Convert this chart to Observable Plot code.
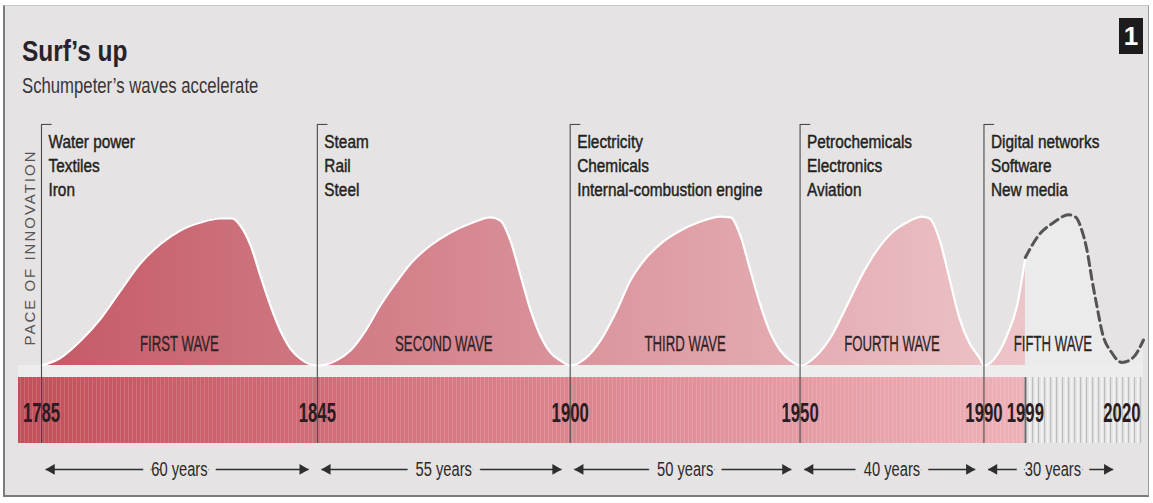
<!DOCTYPE html>
<html><head><meta charset="utf-8">
<script src="https://cdn.jsdelivr.net/npm/d3@7"></script>
<script src="https://cdn.jsdelivr.net/npm/@observablehq/plot@0.6"></script>
<style>
html,body{margin:0;padding:0;background:#fff}
body{width:1153px;height:503px;position:relative;overflow:hidden;font-family:"Liberation Sans",Arial,sans-serif}
#frame{position:absolute;left:3px;top:5px;width:1143px;height:489px;background:#e5e3e3;border-left:2px solid #7c7c7c;border-bottom:2px solid #7c7c7c;border-right:1px solid #9c9c9c;border-top:1px solid #c8c8c8}
.hd{position:absolute;left:22px;white-space:nowrap;transform-origin:0 0}
#title{top:36px;font-size:30px;line-height:30px;font-weight:bold;color:#28232a;transform:scaleX(.815)}
#subtitle{top:75px;font-size:22px;line-height:22px;color:#3a3436;transform:scaleX(.76)}
#badge{position:absolute;left:1119px;top:18px;width:24px;height:36px;background:#1d1b1c;color:#fff;font-weight:bold;font-size:26px;line-height:36px;text-align:center}
#chart{position:absolute;left:0;top:112px}
</style></head><body>
<div id="frame"></div>
<div id="title" class="hd">Surf’s up</div>
<div id="subtitle" class="hd">Schumpeter’s waves accelerate</div>
<div id="badge">1</div>
<div id="chart"></div>
<script>
// ---- data ----
const waveStarts = [1785, 1845, 1900, 1950, 1990];
const waveEnds = [1845, 1900, 1950, 1990, 2020];
const waveNames = ["FIRST WAVE", "SECOND WAVE", "THIRD WAVE", "FOURTH WAVE", "FIFTH WAVE"];
const innovations = [
  "Water power\nTextiles\nIron",
  "Steam\nRail\nSteel",
  "Electricity\nChemicals\nInternal-combustion engine",
  "Petrochemicals\nElectronics\nAviation",
  "Digital networks\nSoftware\nNew media"
];
const spanLabels = ["60 years", "55 years", "50 years", "40 years", "30 years"];
const yearTicks = [1785, 1845, 1900, 1950, 1990, 1999, 2020];
const nowYear = 1999;
const timeline = [1780, 2024.7];

// pace of innovation [year, pace]
const wave1 = [[1785,0],[1789.1,5],[1793.5,16.5],[1797.8,31],[1802.2,50],[1806.5,68],[1810.9,81],[1815.2,90],[1819.6,95.3],[1823.9,98],[1826.5,98],[1828.3,93],[1830.5,80],[1832.6,60],[1834.8,40],[1837,23],[1839.2,11],[1841.3,4.5],[1845,0]];
const wave2 = [[1845,0],[1849.1,3.3],[1852.2,10],[1855.5,23.3],[1858.7,40],[1862,54.7],[1865.3,68],[1869.6,80],[1874,88.7],[1878.3,94.7],[1882.7,98.7],[1884.8,96.7],[1887,83.3],[1889.2,60],[1891.4,36.7],[1893.5,20],[1895.7,8.7],[1897.9,3.3],[1900,0]];
const wave3 = [[1900,0],[1903.3,4.7],[1906.6,16.7],[1909.9,35.3],[1913.1,56.7],[1916.4,71.3],[1919.7,81.3],[1924,90],[1928.4,96],[1932.7,99.3],[1934.9,98.7],[1937,86.7],[1939.2,63.3],[1941.4,40],[1943.6,21.3],[1945.7,10],[1947.9,3.3],[1950,0]];
const wave4 = [[1950,0],[1953.6,6.7],[1956.9,20],[1960.2,40],[1963.4,60],[1966.7,76.7],[1970,88.7],[1973.2,95.3],[1976.5,99.3],[1978.2,98],[1980.4,83.3],[1982.6,56.7],[1984.7,31.3],[1986.9,14.7],[1989.1,4.7],[1990,0]];
const wave5 = [[1990,0],[1992.8,6.7],[1995,20],[1997.2,40],[1999,72]];
const forecast = [[1999,72],[2001.7,86],[2005.3,95.6],[2008.4,100.5],[2009.9,99],[2011.3,90],[2012.4,77],[2013.5,57],[2014.6,39],[2015.8,21],[2017.7,9],[2020,2],[2022.5,5.5],[2024.7,17]];

// ---- layout (pace units on the y scale) ----
const Y = {top: 160.7, labelTop: 156.7, waveLabel: 14.7, barTop: -8, barBottom: -52, yearLabel: -32, arrow: -69.3};
const BG = "#e5e3e3";

const waves = waveStarts.map((s, i) => ({start: s, end: waveEnds[i], name: waveNames[i], innov: innovations[i], span: spanLabels[i]}));
const wavePts = [wave1, wave2, wave3, wave4, wave5].flatMap((w, i) => w.map(([year, pace]) => ({wave: i, year, pace})));
const outline = [];
for (const p of wavePts) if (!outline.length || outline[outline.length - 1].year !== p.year) outline.push(p);
const fc = forecast.map(([year, pace]) => ({year, pace}));

function defs(index, scales) {
  const x = scales.x;
  const g = document.createElementNS("http://www.w3.org/2000/svg", "defs");
  g.innerHTML = `
   <linearGradient id="barGrad" gradientUnits="userSpaceOnUse" x1="${x(timeline[0])}" x2="${x(nowYear)}" y1="0" y2="0">
     <stop offset="0" stop-color="#c34f5a"/><stop offset="0.5" stop-color="#da7f8a"/><stop offset="1" stop-color="#eeb1b8"/>
   </linearGradient>
   <linearGradient id="waveGrad" gradientUnits="userSpaceOnUse" x1="${x(waveStarts[0])}" x2="${x(nowYear)}" y1="0" y2="0">
     <stop offset="0" stop-color="#c45a66"/><stop offset="0.5" stop-color="#d98f98"/><stop offset="1" stop-color="#edc5c8"/>
   </linearGradient>
   <pattern id="pinkTex" patternUnits="userSpaceOnUse" width="4" height="10">
     <rect x="0" width="1" height="10" fill="#ffffff" fill-opacity="0.14"/>
   </pattern>
   <pattern id="grayStripes" patternUnits="userSpaceOnUse" width="6" height="10">
     <rect width="6" height="10" fill="#e4e4e4"/>
     <rect x="0" width="1.1" height="10" fill="#bdbdbd"/>
     <rect x="3" width="1.6" height="10" fill="#f4f4f4"/>
   </pattern>`;
  return g;
}

const chart = Plot.plot({
  width: 1153, height: 391,
  marginLeft: 18, marginRight: 10, marginTop: 0, marginBottom: 0,
  x: {domain: timeline, axis: null},
  y: {domain: [-92, 168.67], axis: null},
  style: {background: "transparent", fontFamily: "'Liberation Sans', Arial, sans-serif", overflow: "visible"},
  marks: [
    defs,
    // light strip between waves and timeline bar
    Plot.rect([0], {x1: timeline[0], x2: timeline[1], y1: 0, y2: Y.barTop, fill: "#eeeded"}),
    // timeline bar
    Plot.rect([0], {x1: timeline[0], x2: nowYear, y1: Y.barTop, y2: Y.barBottom, fill: "url(#barGrad)"}),
    Plot.rect([0], {x1: timeline[0], x2: nowYear, y1: Y.barTop, y2: Y.barBottom, fill: "url(#pinkTex)"}),
    Plot.rect([0], {x1: nowYear, x2: timeline[1], y1: Y.barTop, y2: Y.barBottom, fill: "url(#grayStripes)"}),
    // waves
    Plot.areaY(fc, {x: "year", y: "pace", curve: "monotone-x", fill: "#ecebeb"}),
    Plot.areaY(wavePts, {x: "year", y: "pace", z: "wave", curve: "monotone-x", fill: "url(#waveGrad)"}),
    Plot.line(outline, {x: "year", y: "pace", curve: "monotone-x", stroke: "#ffffff", strokeWidth: 2.2}),
    Plot.line(fc, {x: "year", y: "pace", curve: "monotone-x", stroke: "#555353", strokeWidth: 3, strokeDasharray: "9,5"}),
    // wave boundaries
    Plot.ruleX(waves, {x: "start", y1: Y.top, y2: Y.barBottom, stroke: "#4a4a4a", strokeWidth: 1.1}),
    Plot.link(waves, {x1: "start", x2: d => d.start + 2.2, y1: Y.top, y2: Y.top, stroke: "#4a4a4a", strokeWidth: 1.1}),
    Plot.ruleX([nowYear], {y1: Y.barTop, y2: Y.barBottom, stroke: "#6a6a6a", strokeWidth: 1.6}),
    // texts
    Plot.text([0], {frameAnchor: "left", text: () => "PACE OF INNOVATION", rotate: -90, textAnchor: "middle", dx: 12, dy: -60.5, fontSize: 15, fill: "#555353"}),
    Plot.text(waves, {x: "start", y: Y.labelTop, text: "innov", textAnchor: "start", lineAnchor: "top", lineHeight: 1.3, dx: 7, fontSize: 18.5, fill: "#231f20", stroke: "#231f20", strokeWidth: 0.45}),
    Plot.text(waves, {x: d => (d.start + d.end) / 2, y: Y.waveLabel, text: "name", fontSize: 22, fill: "#2e2226", stroke: "#2e2226", strokeWidth: 0.3}),
    Plot.text(yearTicks, {x: d => d, y: Y.yearLabel, text: d => String(d), fontSize: 27, fontWeight: "bold", fill: "#2a1c20"}),
    // duration arrows
    Plot.link(waves, {x1: d => d.start + 0.9, x2: d => d.end - 1.9, y1: Y.arrow, y2: Y.arrow, stroke: "#2e2e2e", strokeWidth: 1.6}),
    Plot.dot(waves, {x: d => d.start + 0.9, y: Y.arrow, symbol: "triangle", rotate: -90, r: 4, fill: "#2e2e2e", dx: 6}),
    Plot.dot(waves, {x: d => d.end - 1.9, y: Y.arrow, symbol: "triangle", rotate: 90, r: 4, fill: "#2e2e2e", dx: -6}),
    Plot.text(waves, {x: d => (d.start + d.end) / 2, y: Y.arrow, text: "span", fontSize: 21, fill: "#2a2a2a", stroke: BG, strokeWidth: 25, paintOrder: "stroke"})
  ]
});

// condensed lettering (the original uses a condensed face)
const squeeze = {"18.5": 0.83, "22": 0.6, "27": 0.62, "21": 0.7};
chart.querySelectorAll('g[aria-label="text"]').forEach(g => {
  const fs = g.getAttribute("font-size");
  if (fs === "15") { g.setAttribute("letter-spacing", "2"); return; }
  const s = squeeze[fs];
  if (!s) return;
  g.querySelectorAll("text").forEach(t => {
    const tr = t.getAttribute("transform");
    if (tr) t.setAttribute("transform", tr + ` scale(${s},1)`);
    else {
      const x = +t.getAttribute("x") || 0, y = +t.getAttribute("y") || 0;
      t.removeAttribute("x"); t.removeAttribute("y");
      t.setAttribute("transform", `translate(${x},${y}) scale(${s},1)`);
    }
  });
});
document.getElementById("chart").appendChild(chart);
</script>
</body></html>
